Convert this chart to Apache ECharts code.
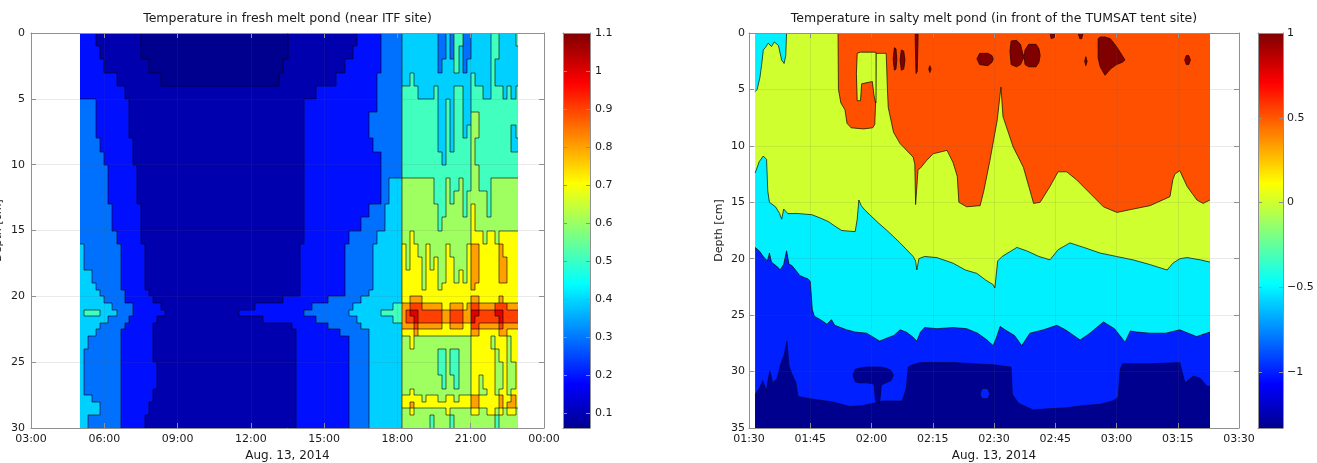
<!DOCTYPE html>
<html>
<head>
<meta charset="utf-8">
<title>Melt pond temperatures</title>
<script src="https://cdn.jsdelivr.net/npm/echarts@6.0.0/dist/echarts.min.js"></script>
<style>
html,body{margin:0;padding:0;background:#ffffff;}
#chart{width:1317px;height:463px;}
</style>
</head>
<body>
<div id="chart"></div>
<script>
// ================= DATA : fresh melt pond (left) =================
const freshTitle = 'Temperature in fresh melt pond (near ITF site)';
const freshXLabels = ['03:00','06:00','09:00','12:00','15:00','18:00','21:00','00:00'];
// column edges (local time), 10-minute columns
const freshEarlyTimes = ['05:00','05:10','05:20','05:30','05:40','05:50','06:00','06:10','06:20','06:30','06:40','06:50',
  '07:00','07:10','07:20','07:30','07:40','07:50','08:00','08:10','08:20','08:30','08:40','08:50',
  '09:00','09:10','09:20','09:30','09:40','09:50','10:00','10:10','10:20','10:30','10:40','10:50',
  '11:00','11:10','11:20','11:30','11:40','11:50','12:00','12:10','12:20','12:30','12:40','12:50',
  '13:00','13:10','13:20','13:30','13:40','13:50','14:00','14:10','14:20','14:30','14:40','14:50',
  '15:00','15:10','15:20','15:30','15:40','15:50','16:00','16:10','16:20','16:30','16:40','16:50',
  '17:00','17:10','17:20','17:30','17:40','17:50','18:00'];
const freshLateTimes = ['18:00','18:10','18:20','18:30','18:40','18:50','19:00','19:10','19:20','19:30','19:40','19:50',
  '20:00','20:10','20:20','20:30','20:40','20:50','21:00','21:10','21:20','21:30','21:40','21:50','22:00','22:10','22:20',
  '22:30','22:40','22:50','22:57'];
// row edges (depth, cm)
const freshDepthEdges = [0,1,2,3,4,5,6,7,8,9,10,11,12,13,14,15,16,17,18,19,19.5,20,20.5,21,21.5,22,22.5,23,24,25,26,27,27.5,28,28.5,29,30];
// temperature band of each cell (band k = 0.1k .. 0.1k+0.1 degC), 05:00-18:00, run-length "band:count"
const freshEarlyBands = [
 '2:4,1:11,0:36,1:17,2:6,3:4',
 '2:5,1:10,0:36,1:16,2:7,3:4',
 '2:6,1:11,0:33,1:15,2:9,3:4',
 '2:9,1:11,0:29,1:14,2:10,3:5',
 '2:11,1:47,2:15,3:5',
 '3:4,2:8,1:43,2:18,3:5',
 '3:4,2:8,1:43,2:16,3:7',
 '3:4,2:8,1:43,2:16,3:7',
 '3:5,2:8,1:42,2:17,3:6',
 '3:6,2:7,1:42,2:19,3:4',
 '3:7,2:7,1:41,2:19,3:4',
 '3:7,2:7,1:41,2:19,3:2,4:2',
 '3:7,2:7,1:41,2:19,3:2,4:2',
 '3:8,2:7,1:40,2:16,3:4,4:3',
 '3:8,2:7,1:40,2:14,3:6,4:3',
 '3:9,2:6,1:40,2:11,3:7,4:5',
 '4:1,3:9,2:6,1:38,2:11,3:7,4:6',
 '4:1,3:9,2:6,1:38,2:11,3:7,4:6',
 '4:3,3:7,2:6,1:38,2:11,3:7,4:6',
 '4:4,3:6,2:6,1:38,2:11,3:7,4:6',
 '4:5,3:6,2:6,1:37,2:11,3:6,4:7',
 '4:6,3:5,2:7,1:32,2:11,3:8,4:9',
 '4:8,3:5,2:7,1:23,2:14,3:10,4:10,5:1',
 '4:1,5:4,4:4,3:4,2:8,1:18,2:16,3:11,4:8,5:4',
 '4:7,3:5,2:7,1:26,2:13,3:10,4:9,5:1',
 '4:5,3:6,2:7,1:34,2:9,3:8,4:9',
 '4:4,3:6,2:8,1:35,2:11,3:7,4:7',
 '4:2,3:8,2:8,1:35,2:13,3:5,4:7',
 '4:1,3:9,2:8,1:35,2:13,3:5,4:7',
 '4:1,3:9,2:9,1:34,2:13,3:5,4:7',
 '4:1,3:9,2:9,1:34,2:13,3:5,4:7',
 '4:1,3:9,2:8,1:35,2:13,3:5,4:7',
 '4:3,3:7,2:8,1:35,2:13,3:5,4:7',
 '4:5,3:5,2:7,1:36,2:13,3:5,4:7',
 '4:5,3:5,2:7,1:36,2:13,3:5,4:7',
 '4:2,3:8,2:6,1:37,2:13,3:5,4:7'
];
// 18:00-22:57, one char per 10-min column (A = band 10)
const freshLateBands = [
 '344444444433435533444445544445',
 '344444444433435433444445544444',
 '344444444434445434444445444444',
 '344544444444444444544445444444',
 '355554444544445544555445554545',
 '355555555544545544555555555555',
 '355555555544545544665555555555',
 '355555555544545545665555555545',
 '355555555544545555655555555544',
 '355555555554555555655555555555',
 '355555555555555555665555555555',
 '466666666555655655665556666666',
 '466666666555656656666656666666',
 '466666666655666656766656666666',
 '466666666656666666766666666666',
 '466766666666666666777677677777',
 '476776676666766667887777787777',
 '476777676766776667887777788777',
 '477777677766776767887777788777',
 '477777677767777777877777777777',
 '477777777777777777777777777777',
 '477888777777777777887777787777',
 '588999888887788878998888999888',
 '589AA9999998899988AA9999AA9999',
 '5899A9999998899988A999999A9999',
 '488898888887788877998888898888',
 '477787777777777777887777788777',
 '466766666666666666777776777677',
 '466666666655655666777777677677',
 '466666666655655666777777667667',
 '466666666665665666776777667667',
 '466766666666666666776677677677',
 '477777677766776777887777787787',
 '477877777777777777887777787887',
 '466766666666766666776677676776',
 '466666665666656666666666566666'
];
const freshBandTemps = [0.08,0.15,0.25,0.35,0.45,0.55,0.65,0.75,0.85,0.95,1.05];
const freshLevels = [0.1,0.2,0.3,0.4,0.5,0.6,0.7,0.8,0.9,1.0];
const freshBarRange = [0.06, 1.1];
const freshBarTicks = [0.1,0.2,0.3,0.4,0.5,0.6,0.7,0.8,0.9,1,1.1];

// ================= DATA : salty melt pond (right) =================
const saltyTitle = 'Temperature in salty melt pond (in front of the TUMSAT tent site)';
const saltyXLabels = ['01:30','01:45','02:00','02:15','02:30','02:45','03:00','03:15','03:30'];
// [minutes after 01:30, depth cm]
const saltyFullDepth = [[1.5,35],[112.9,35]];
const saltyOrangeBottom = [[21.8,0],[21.9,5.0],[22.5,6.2],[23.5,6.8],[24.0,8.0],[25,8.4],[28,8.5],[30.3,8.4],[30.8,8.1],
 [31.0,6.3],[31.1,1.8],[33.6,1.8],[33.9,5.0],[34.1,6.6],[35.4,8.8],[37,9.8],[40.2,11.0],[40.6,11.6],[40.8,15.2],[41.2,15.2],
 [41.4,12.1],[41.9,12.0],[43.5,11.3],[45.1,10.7],[48.5,10.4],[50,11.5],[51,12.7],[51.4,15.0],[53.3,15.4],[56.6,15.3],
 [57.5,14.0],[59,11.3],[60.8,7.7],[61.7,4.8],[62.2,7.4],[64.7,10.1],[67.2,11.9],[69.0,14.2],[69.7,15.1],[71.3,15.0],
 [73.7,13.6],[75.7,12.3],[77.8,12.3],[80.2,13.0],[83.5,14.2],[86.8,15.4],[90.1,15.9],[94.1,15.6],[98.2,15.3],[103.1,14.5],
 [103.8,13.0],[104.3,12.5],[105.5,12.2],[107.3,13.6],[109.7,14.8],[111.2,15.1],[112.9,14.8]];
const saltyCornerCyanBottom = [[1.5,5.2],[2.0,5.0],[2.7,3.9],[3.2,2.5],[3.5,1.5],[4.0,1.3],[4.7,0.9],[5.5,1.2],[6.2,0.8],
 [7.2,1.1],[8.0,2.4],[8.6,2.7],[9.0,2.0],[9.2,0]];
const saltyCyanTop = [[1.5,12.4],[2.5,11.4],[3.5,10.9],[4.3,11.2],[4.6,14.0],[5.0,15.0],[6.5,15.4],[7.5,16.0],[8.0,16.5],
 [8.5,15.6],[9.5,16.0],[12,16.0],[15.4,16.1],[17.5,16.4],[19.4,16.7],[21,17.1],[22.7,17.5],[26,17.6],[26.5,16.5],[26.9,14.8],
 [27.5,15.3],[28.4,15.7],[31.6,16.8],[33.8,17.5],[37,18.6],[40.2,19.8],[40.8,20.2],[41.1,21.0],[41.6,20.0],[43,19.8],
 [46,19.9],[50,20.4],[53,21.0],[55.8,21.3],[58,21.9],[59.8,22.3],[60.2,22.6],[60.9,20.2],[62,19.8],[65.6,19.0],[68,19.3],
 [71,19.8],[73.7,20.1],[75.7,19.2],[78.6,18.6],[82,19.0],[86,19.5],[90,19.8],[94,20.1],[98,20.5],[102.4,21.0],[103.8,20.4],
 [105.5,20.0],[107.3,19.9],[110.5,20.1],[112.9,20.3]];
const saltyBlueTop = [[1.5,19.0],[2.5,19.3],[3.5,19.8],[4.5,20.2],[5.0,19.5],[5.5,20.3],[7.2,20.8],[7.6,21.0],[8.5,20.5],
 [9.2,19.3],[9.8,20.5],[10.5,20.6],[12.5,21.5],[14.5,21.8],[15.0,22.0],[15.5,24.5],[16.0,25.1],[17.5,25.4],[19.1,25.8],
 [20.2,25.4],[21,25.9],[23.9,26.3],[26,26.5],[28.8,26.6],[32,27.3],[34,27.0],[35.5,26.8],[37,26.3],[38.5,26.5],[40,26.9],
 [41.1,27.3],[42,26.5],[43,26.1],[46,26.2],[50,26.1],[53.3,26.2],[56,26.6],[58.3,27.2],[59.8,27.7],[60.6,27.0],[61.5,26.0],
 [62.7,26.3],[65,26.8],[66.8,27.7],[68.8,26.6],[72.1,26.3],[75.4,25.9],[77.5,26.3],[81.1,27.2],[83.5,26.6],[86.8,25.6],
 [89.5,26.2],[92.1,27.4],[93.4,26.4],[95,26.5],[98.2,26.6],[102,26.6],[105.5,26.3],[109.6,26.9],[112.9,26.5]];
const saltyNavyTop = [[1.5,32.0],[2.5,31.5],[3.4,30.8],[4.2,31.7],[5.1,29.9],[5.8,31.0],[6.9,30.6],[7.7,29.4],[8.6,28.5],
 [9.3,27.3],[9.8,29.5],[10.5,30.2],[11.5,31.0],[12,32.2],[15,32.4],[20.6,32.7],[24.7,33.1],[28,33.0],[32.9,32.6],[37.5,32.6],
 [38.5,31.5],[39.0,29.6],[40,29.4],[41.9,29.2],[50,29.2],[55,29.3],[60,29.4],[62,29.5],[64.2,29.6],[64.5,32.0],[66,32.8],
 [69.6,33.4],[73,33.3],[77.8,33.2],[82,33.0],[86,32.9],[89,32.6],[90.4,32.3],[90.9,29.8],[91.5,29.3],[98,29.3],[105.5,29.2],
 [106.8,31.0],[108.8,30.4],[110.5,30.6],[112.2,31.3],[112.9,31.3]];
// islands: [minute, top depth, bottom depth]
const saltyYellowFinger = [[26.3,3.6,3.6],[26.5,1.8,6.0],[27.3,1.7,6.0],[27.6,1.7,4.5],[30.2,1.7,4.3],[30.6,1.7,5.5],[31.0,1.7,6.2],[31.1,1.8,6.2]];
const saltyHotIslands = [
 [[35.3,2.3,2.3],[35.6,1.3,3.3],[36.0,1.4,3.2],[36.2,2.3,2.3]],
 [[37.0,2.4,2.4],[37.3,1.5,3.3],[37.9,1.6,3.2],[38.2,2.4,2.4]],
 [[40.7,0,0.5],[40.9,0,3.6],[41.2,0,3.4],[41.4,0,0.5]],
 [[44.0,3.2,3.2],[44.3,2.9,3.5],[44.6,3.2,3.2]],
 [[55.8,2.3,2.3],[56.5,1.8,2.8],[58.5,1.8,2.9],[59.5,2.0,2.6],[59.8,2.3,2.3]],
 [[63.9,1.6,1.6],[64.2,0.7,2.8],[65.5,0.65,3.0],[66.5,1.0,2.8],[67.1,1.9,2.3],[67.4,2.0,2.2],[67.6,1.5,2.8],[68.5,1.0,3.0],[70.3,1.0,3.0],[71.0,1.4,2.6],[71.3,2.0,2.0]],
 [[73.7,0,0],[74.0,0,0.5],[74.8,0,0.4],[75.0,0,0]],
 [[80.6,0,0],[81.0,0,0.5],[81.5,0,0.5],[81.8,0,0]],
 [[82.2,2.5,2.5],[82.5,2.1,2.9],[82.8,2.5,2.5]],
 [[85.5,0.5,2.2],[86.0,0.35,3.0],[87.2,0.35,3.75],[88.5,0.5,3.2],[90.0,1.2,2.8],[91.4,2.0,2.6],[92.1,2.4,2.4]],
 [[106.7,2.4,2.4],[107.1,2.0,2.8],[107.7,2.0,2.8],[108.1,2.4,2.4]]
];
const saltyNavyPatch = [[25.5,30.3,30.3],[26.0,29.8,30.9],[27.0,29.7,31.0],[29.0,29.6,31.0],[30.6,29.6,31.1],[31.0,29.6,32.6],
 [32.0,29.6,32.8],[32.4,29.6,31.2],[33.5,29.7,31.0],[34.8,29.9,30.8],[35.3,30.3,30.4]];
const saltyBlueHole = [[56.6,32.0,32.0],[57.0,31.5,32.4],[58.5,31.5,32.4],[59.0,32.0,32.0]];
const saltyBarRange = [-1.33, 1];
const saltyBarTicks = [-1,-0.5,0,0.5,1];

// ================= STYLE =================
const FONT = 'DejaVu Sans';
const AXIS = '#909090';
const TXT = '#1a1a1a';
const GRIDLINE = 'rgba(90,90,90,0.13)';
const freshColors = ['#00008F','#0000AF','#0010FF','#0070FF','#00D0FF','#40FFBF','#A0FF60','#FFFF00','#FFA000','#FF4000','#E00000'];
const SC = {navy:'#00008F', blue:'#0020FF', cyan:'#00F0FF', yellow:'#D0FF30', orange:'#FF5000', hot:'#800000'};
const jetStops = [[0,'#00008F'],[0.111,'#0000FF'],[0.365,'#00FFFF'],[0.619,'#FFFF00'],[0.873,'#FF0000'],[1,'#800000']];

// ================= BUILD =================
function decodeRLE(s){ return s.split(',').map(p => { const a = p.split(':'); return a[0].repeat(+a[1]); }).join(''); }
function hm(s){ const a = s.split(':').map(Number); return a[0] + a[1]/60; }
const tEdges = freshEarlyTimes.map(hm).concat(freshLateTimes.slice(1).map(hm));
const dEdges = freshDepthEdges;
const early = freshEarlyBands.map(decodeRLE);
early.forEach((s,i)=>{ if (s.length !== freshEarlyTimes.length-1) throw new Error('early row '+i+' length '+s.length); });
freshLateBands.forEach((s,i)=>{ if (s.length !== freshLateTimes.length-1) throw new Error('late row '+i+' length '+s.length); });
if (early.length !== dEdges.length-1 || freshLateBands.length !== dEdges.length-1) throw new Error('row count');
const rows = early.map((e,i) => e + freshLateBands[i]);
const nCols = tEdges.length - 1, nRows = dEdges.length - 1;
const bandAt = (c, r) => parseInt(rows[r][c], 11);
const freshCells = [];
for (let r = 0; r < nRows; r++) for (let c = 0; c < nCols; c++) {
  freshCells.push([(tEdges[c]+tEdges[c+1])/2, (dEdges[r]+dEdges[r+1])/2, freshBandTemps[bandAt(c,r)], c, r]);
}
const pieces = [{lt: freshLevels[0], color: freshColors[0]}];
for (let i = 0; i < freshLevels.length; i++) {
  const p = {gte: freshLevels[i], color: freshColors[i+1]};
  if (i + 1 < freshLevels.length) p.lt = freshLevels[i+1];
  pieces.push(p);
}
const contourStyle = {stroke:'#000', lineWidth:0.8, opacity:0.75};
function renderFresh(params, api) {
  const c = api.value(3), r = api.value(4);
  const p0 = api.coord([tEdges[c], dEdges[r]]);
  const p1 = api.coord([tEdges[c+1], dEdges[r+1]]);
  const x0 = Math.round(Math.min(p0[0], p1[0])), x1 = Math.round(Math.max(p0[0], p1[0]));
  const y0 = Math.round(Math.min(p0[1], p1[1])), y1 = Math.round(Math.max(p0[1], p1[1]));
  const k = bandAt(c, r);
  const children = [{type:'rect', shape:{x:x0, y:y0, width:x1-x0, height:y1-y0}, style:{fill: api.visual('color')}, z2:0}];
  if (c + 1 < nCols && bandAt(c+1, r) !== k) children.push({type:'line', shape:{x1:x1, y1:y0, x2:x1, y2:y1}, style:contourStyle, z2:5});
  if (r + 1 < nRows && bandAt(c, r+1) !== k) children.push({type:'line', shape:{x1:x0, y1:y1, x2:x1, y2:y1}, style:contourStyle, z2:5});
  return {type:'group', children: children};
}
function renderBar(params, api) {
  const p0 = api.coord([0, api.value(2)]);
  const p1 = api.coord([1, api.value(1)]);
  return {type:'rect', shape:{x:p0[0], y:p0[1], width:p1[0]-p0[0], height:p1[1]-p0[1]},
    style:{fill: new echarts.graphic.LinearGradient(0, 1, 0, 0, jetStops.map(s => ({offset:s[0], color:s[1]})))}};
}

// axes helpers
const lbl = (extra) => Object.assign({color:TXT, fontSize:11, fontFamily:FONT}, extra || {});
function xPair(gridIndex, min, max, interval, labels, name) {
  return [
    {type:'value', gridIndex, min, max, interval, position:'bottom', z:10,
     axisLine:{show:true, onZero:false, lineStyle:{color:AXIS, width:1}},
     axisTick:{show:true, inside:true, length:5, lineStyle:{color:AXIS}},
     axisLabel:lbl({margin:6, formatter: v => labels[Math.round((v-min)/interval)] || ''}),
     splitLine:{show:true, lineStyle:{color:GRIDLINE, width:1}},
     name, nameLocation:'middle', nameGap:19, nameTextStyle:lbl({fontSize:12})},
    {type:'value', gridIndex, min, max, interval, position:'top', z:10,
     axisLine:{show:true, onZero:false, lineStyle:{color:AXIS, width:1}},
     axisTick:{show:true, inside:true, length:5, lineStyle:{color:AXIS}},
     axisLabel:{show:false}, splitLine:{show:false}}
  ];
}
function yPair(gridIndex, min, max, interval, margin, nameGap) {
  return [
    {type:'value', gridIndex, min, max, interval, inverse:true, position:'left', z:10,
     axisLine:{show:true, onZero:false, lineStyle:{color:AXIS, width:1}},
     axisTick:{show:true, inside:true, length:5, lineStyle:{color:AXIS}},
     axisLabel:lbl({margin}),
     splitLine:{show:true, lineStyle:{color:GRIDLINE, width:1}},
     name:'Depth [cm]', nameLocation:'middle', nameGap, nameRotate:90, nameTextStyle:lbl({fontSize:11})},
    {type:'value', gridIndex, min, max, interval, inverse:true, position:'right', z:10,
     axisLine:{show:true, onZero:false, lineStyle:{color:AXIS, width:1}},
     axisTick:{show:true, inside:true, length:5, lineStyle:{color:AXIS}},
     axisLabel:{show:false}, splitLine:{show:false}}
  ];
}
function barX(gridIndex) {
  return [
    {type:'value', gridIndex, min:0, max:1, position:'bottom', z:10, axisLine:{show:true, onZero:false, lineStyle:{color:AXIS}}, axisTick:{show:false}, axisLabel:{show:false}, splitLine:{show:false}},
    {type:'value', gridIndex, min:0, max:1, position:'top', z:10, axisLine:{show:true, onZero:false, lineStyle:{color:AXIS}}, axisTick:{show:false}, axisLabel:{show:false}, splitLine:{show:false}}
  ];
}
function barY(gridIndex, range, ticks, margin) {
  const fmt = v => { const s = String(Math.round(v*100)/100); return s.replace('-', '\u2212'); };
  return [
    {type:'value', gridIndex, min:range[0], max:range[1], position:'right', z:10,
     axisLine:{show:true, onZero:false, lineStyle:{color:AXIS}},
     axisTick:{show:true, inside:true, length:4, lineStyle:{color:AXIS}, customValues:ticks},
     axisLabel:lbl({margin, customValues:ticks, formatter:fmt}), splitLine:{show:false}},
    {type:'value', gridIndex, min:range[0], max:range[1], position:'left', z:10,
     axisLine:{show:true, onZero:false, lineStyle:{color:AXIS}},
     axisTick:{show:true, inside:true, length:4, lineStyle:{color:AXIS}, customValues:ticks},
     axisLabel:{show:false}, splitLine:{show:false}}
  ];
}

const xAxis = [].concat(
  xPair(0, 3, 24, 3, freshXLabels, 'Aug. 13, 2014'),
  xPair(1, 0, 120, 15, saltyXLabels, 'Aug. 13, 2014'),
  barX(2), barX(3));
const yAxis = [].concat(
  yPair(0, 0, 30, 5, 6, 27),
  yPair(1, 0, 35, 5, 4, 24),
  barY(2, freshBarRange, freshBarTicks, 5),
  barY(3, saltyBarRange, saltyBarTicks, 4));

const series = [];
series.push({type:'custom', name:'fresh', coordinateSystem:'cartesian2d', xAxisIndex:0, yAxisIndex:0,
  renderItem: renderFresh, data: freshCells, encode:{x:0, y:1}, clip:true, silent:true, animation:false, progressive:0});
series.push({type:'custom', xAxisIndex:4, yAxisIndex:4, renderItem: renderBar,
  data:[[0, freshBarRange[0], freshBarRange[1]]], encode:{x:0, y:1}, silent:true, animation:false});
series.push({type:'custom', xAxisIndex:6, yAxisIndex:6, renderItem: renderBar,
  data:[[0, saltyBarRange[0], saltyBarRange[1]]], encode:{x:0, y:1}, silent:true, animation:false});

const RB = {type:'line', xAxisIndex:2, yAxisIndex:2, symbol:'none', showSymbol:false, silent:true, animation:false, smooth:false, clip:true, z:2};
function area(data, color, origin, lw) {
  return Object.assign({}, RB, {data, lineStyle:{color:'#000', width:lw || 0.8, opacity: lw === 0 ? 0 : 0.85},
    areaStyle:{color, opacity:1, origin}});
}
// islands as closed polygons (top edge forward, bottom edge back), positioned through the axes
function islandSeries(list, z) {
  return {type:'custom', coordinateSystem:'cartesian2d', xAxisIndex:2, yAxisIndex:2, clip:true, silent:true, animation:false, z,
    data: list.map((isl, i) => [isl.pts[0][0], isl.pts[0][1], i]), encode:{x:0, y:1},
    renderItem: function (params, api) {
      const isl = list[api.value(2)];
      const top = isl.pts.map(p => api.coord([p[0], p[1]]));
      const bot = isl.pts.slice().reverse().map(p => api.coord([p[0], p[2]]));
      return {type:'polygon', shape:{points: top.concat(bot)}, style:{fill: isl.color, stroke: isl.line, lineWidth: 0.7}};
    }};
}
const upperIslands = [{pts: saltyYellowFinger, color: SC.yellow, line: '#000'}]
  .concat(saltyHotIslands.map(p => ({pts: p, color: SC.hot, line: '#1a0000'})));
const lowerIslands = [{pts: saltyNavyPatch, color: SC.navy, line: '#000040'}, {pts: saltyBlueHole, color: SC.blue, line: '#000040'}];

series.push(area(saltyFullDepth, SC.yellow, 'start', 0));
series.push(area(saltyOrangeBottom, SC.orange, 'start', 0.8));
series.push(area(saltyCornerCyanBottom, SC.cyan, 'start', 0.8));
series.push(area(saltyCyanTop, SC.cyan, 'end', 0.8));
series.push(area(saltyBlueTop, SC.blue, 'end', 0.8));
series.push(area(saltyNavyTop, SC.navy, 'end', 0.5));
series.push(islandSeries(upperIslands, 4));
series.push(islandSeries(lowerIslands, 4));

const option = {
  backgroundColor:'#ffffff',
  animation:false,
  textStyle:{fontFamily:FONT},
  title:[
    {text:freshTitle, left:287.5, top:12, textAlign:'center', padding:0, textStyle:{fontSize:12.5, fontWeight:'normal', color:TXT, fontFamily:FONT}},
    {text:saltyTitle, left:994, top:12, textAlign:'center', padding:0, textStyle:{fontSize:12.5, fontWeight:'normal', color:TXT, fontFamily:FONT}}
  ],
  grid:[
    {left:31, top:33, width:513, height:395, outerBoundsMode:'none', containLabel:false},
    {left:749, top:33, width:490, height:395, outerBoundsMode:'none', containLabel:false},
    {left:563, top:33, width:27, height:395, outerBoundsMode:'none', containLabel:false},
    {left:1258, top:33, width:25, height:395, outerBoundsMode:'none', containLabel:false}
  ],
  visualMap:[{type:'piecewise', show:false, seriesIndex:0, dimension:2, pieces}],
  xAxis, yAxis, series
};
const chart = echarts.init(document.getElementById('chart'), null, {renderer:'canvas', width:1317, height:463});
chart.setOption(option);
</script>
</body>
</html>
